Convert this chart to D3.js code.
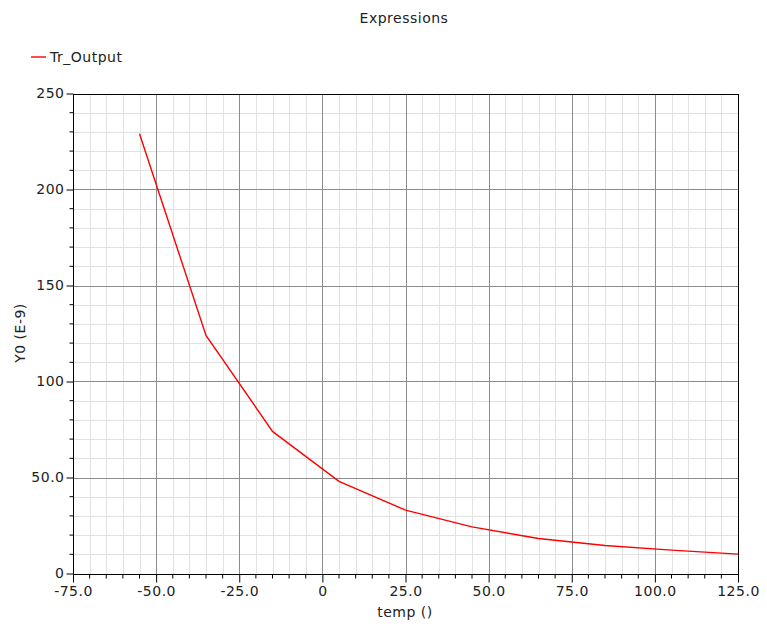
<!DOCTYPE html>
<html>
<head>
<meta charset="utf-8">
<script src="https://cdn.jsdelivr.net/npm/d3@7"></script>
<style>
  html, body { margin: 0; padding: 0; background: #fff; }
  svg text { font-family: "DejaVu Sans", sans-serif; font-size: 14px; fill: #222; letter-spacing: 0.5px; }
</style>
</head>
<body>
<svg id="chart" width="767" height="628"></svg>
<script>
// Temperature sweep (°C) and simulated output (units of 1e-9)
const temps = [-55, -35, -15, 5, 25, 45, 65, 85, 105, 125];
const output = [229, 124, 74, 48, 33, 24.3, 18.2, 14.6, 12.2, 10.1];

const seriesName = "Tr_Output";
const chartTitle = "Expressions";
const xTitle = "temp ()";
const yTitle = "Y0 (E-9)";

const xTickValues = [-75, -50, -25, 0, 25, 50, 75, 100, 125];
const xTickLabels = ["-75.0", "-50.0", "-25.0", "0", "25.0", "50.0", "75.0", "100.0", "125.0"];
const yTickValues = [0, 50, 100, 150, 200, 250];
const yTickLabels = ["0", "50.0", "100", "150", "200", "250"];

const svg = d3.select("#chart");
const plot = { left: 73, right: 738, top: 93.5, bottom: 573.5 };

const x = d3.scaleLinear().domain([-75, 125]).range([plot.left, plot.right]);
const y = d3.scaleLinear().domain([0, 250]).range([plot.bottom, plot.top]);

const xMinor = d3.range(-75, 125.001, 5);
const yMinor = d3.range(0, 250.001, 10);

// minor grid
const grid = svg.append("g").attr("shape-rendering", "crispEdges");
grid.selectAll(".vminor").data(xMinor).join("line")
  .attr("x1", d => Math.round(x(d)) + 0.5).attr("x2", d => Math.round(x(d)) + 0.5)
  .attr("y1", plot.top).attr("y2", plot.bottom)
  .attr("stroke", "#e2e2e2").attr("stroke-width", 1);
grid.selectAll(".hminor").data(yMinor).join("line")
  .attr("y1", d => Math.round(y(d)) + 0.5).attr("y2", d => Math.round(y(d)) + 0.5)
  .attr("x1", plot.left).attr("x2", plot.right)
  .attr("stroke", "#e2e2e2").attr("stroke-width", 1);

// major grid
grid.selectAll(".vmajor").data(xTickValues).join("line")
  .attr("x1", d => Math.round(x(d)) + 0.5).attr("x2", d => Math.round(x(d)) + 0.5)
  .attr("y1", plot.top).attr("y2", plot.bottom)
  .attr("stroke", "#8c8c8c").attr("stroke-width", 1);
grid.selectAll(".hmajor").data(yTickValues).join("line")
  .attr("y1", d => Math.round(y(d)) + 0.5).attr("y2", d => Math.round(y(d)) + 0.5)
  .attr("x1", plot.left).attr("x2", plot.right)
  .attr("stroke", "#8c8c8c").attr("stroke-width", 1);

// data line
svg.append("clipPath").attr("id", "clip").append("rect")
  .attr("x", plot.left).attr("y", plot.top)
  .attr("width", plot.right - plot.left).attr("height", plot.bottom - plot.top);

const line = d3.line().x((d, i) => x(temps[i])).y(d => y(d));
svg.append("path")
  .datum(output)
  .attr("clip-path", "url(#clip)")
  .attr("d", line)
  .attr("fill", "none")
  .attr("stroke", "#ff0000")
  .attr("stroke-width", 1.4);

// frame
svg.append("rect")
  .attr("x", plot.left + 0.5).attr("y", Math.round(plot.top) + 0.5)
  .attr("width", plot.right - plot.left).attr("height", Math.round(plot.bottom) - Math.round(plot.top))
  .attr("fill", "none").attr("stroke", "#000").attr("stroke-width", 1.2)
  .attr("shape-rendering", "crispEdges");

// axes
const xAxis = d3.axisBottom(x)
  .tickValues(xTickValues)
  .tickFormat((d, i) => xTickLabels[i])
  .tickSize(8).tickPadding(4);
const gx = svg.append("g")
  .attr("transform", `translate(0,${Math.round(plot.bottom) + 0.5})`)
  .call(xAxis);
gx.select(".domain").remove();
gx.selectAll("line").attr("stroke", "#000");
gx.selectAll("text").attr("font-size", null).attr("font-family", null).attr("fill", "#222");
gx.append("g").selectAll("line").data(xMinor.filter(d => d % 25 !== 0)).join("line")
  .attr("x1", d => x(d)).attr("x2", d => x(d)).attr("y1", 0).attr("y2", 4)
  .attr("stroke", "#000");

const yAxis = d3.axisLeft(y)
  .tickValues(yTickValues)
  .tickFormat((d, i) => yTickLabels[yTickValues.indexOf(d)])
  .tickSize(7).tickPadding(2);
const gy = svg.append("g")
  .attr("transform", `translate(${plot.left + 0.5},0)`)
  .call(yAxis);
gy.select(".domain").remove();
gy.selectAll("line").attr("stroke", "#000");
gy.selectAll("text").attr("font-size", null).attr("font-family", null).attr("fill", "#222");
gy.append("g").selectAll("line").data(yMinor.filter(d => d % 50 !== 0)).join("line")
  .attr("y1", d => y(d)).attr("y2", d => y(d)).attr("x1", 0).attr("x2", -4)
  .attr("stroke", "#000");

// titles
svg.append("text").attr("x", 404).attr("y", 23).attr("text-anchor", "middle").text(chartTitle);
svg.append("text").attr("x", 405).attr("y", 617).attr("text-anchor", "middle").text(xTitle);
svg.append("text")
  .attr("transform", `translate(25,333) rotate(-90)`)
  .attr("text-anchor", "middle").text(yTitle);

// legend
const legend = svg.append("g").attr("transform", "translate(31,57)");
legend.append("line").attr("x1", 0).attr("x2", 15).attr("y1", 0).attr("y2", 0)
  .attr("stroke", "#ff0000").attr("stroke-width", 1.4);
legend.append("text").attr("x", 19).attr("y", 5).text(seriesName);
</script>
</body>
</html>
